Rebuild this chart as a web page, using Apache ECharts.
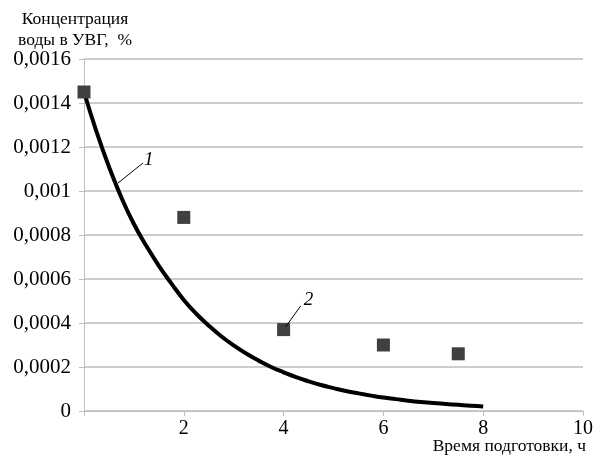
<!DOCTYPE html>
<html><head><meta charset="utf-8">
<script src="https://cdn.jsdelivr.net/npm/echarts@6/dist/echarts.min.js"></script>
<style>html,body{margin:0;padding:0;background:#fff}#c{width:596px;height:458px}</style>
</head><body><div id="c"></div>
<script>
// Curve 1
const curveT = [0, 0.25, 0.5, 0.75, 1, 1.25, 1.5, 1.75, 2, 2.25, 2.5, 2.75, 3, 3.25, 3.5, 3.75, 4, 4.25, 4.5, 4.75, 5, 5.25, 5.5, 5.75, 6, 6.25, 6.5, 6.75, 7, 7.25, 7.5, 7.75, 8];
const curveV = [0.00145, 0.00127, 0.00111, 0.00097, 0.00085, 0.00075, 0.00066, 0.00058, 0.000505, 0.000442, 0.000388, 0.00034, 0.000298, 0.000261, 0.000229, 0.0002, 0.000176, 0.000154, 0.000135, 0.000118, 0.000104, 0.000091, 0.00008, 0.00007, 0.000061, 0.000054, 0.000047, 0.000041, 0.000036, 0.000032, 0.000028, 0.000024, 0.000021];
// Points 2
const pointT = [0, 2, 4, 6, 7.5];
const pointV = [0.00145, 0.00088, 0.00037, 0.0003, 0.00026];
const yTickLabels = ['0', '0,0002', '0,0004', '0,0006', '0,0008', '0,001', '0,0012', '0,0014', '0,0016'];
const xTickLabels = ['', '2', '4', '6', '8', '10'];
const yTitle = 'Концентрация\nводы в УВГ,  %';
const xTitle = 'Время подготовки, ч';
// annotation leaders: [fromT, fromV, toT, toV, labelT, labelV, text]
const leader1 = [0.68, 0.001036, 1.18, 0.001127, 1.3, 0.00114, '1'];
const leader2 = [4.04, 0.000382, 4.34, 0.000477, 4.5, 0.000505, '2'];

const font = 'Liberation Serif';
const chart = echarts.init(document.getElementById('c'));
function leader(l) {
  return {
    type: 'line', data: [], silent: true,
    markLine: {
      symbol: ['none', 'none'], silent: true,
      lineStyle: { color: '#000', width: 1, type: 'solid' },
      label: { show: false },
      data: [[{ coord: [l[0], l[1]] }, { coord: [l[2], l[3]] }]]
    },
    markPoint: {
      symbol: 'circle', symbolSize: 1, itemStyle: { color: 'transparent' },
      label: { show: true, formatter: l[6], color: '#000', fontFamily: font, fontStyle: 'italic', fontSize: 19, position: 'inside' },
      data: [{ coord: [l[4], l[5]] }]
    }
  };
}
chart.setOption({
  animation: false,
  grid: { left: 84, right: 9, top: 59, bottom: 47 },
  graphic: [{
    type: 'text', x: 75, y: 9,
    style: { text: yTitle, font: '17.5px "Liberation Serif"', fill: '#000', align: 'center', textAlign: 'center', lineHeight: 21 }
  }],
  title: {
    text: xTitle, right: 5, top: 432,
    textStyle: { fontFamily: font, fontSize: 17.5, fontWeight: 'normal', color: '#000' }
  },
  xAxis: {
    type: 'value', min: 0, max: 10, interval: 2,
    axisLine: { lineStyle: { color: '#bfbfbf', width: 1 } },
    axisTick: { show: true, length: 5, lineStyle: { color: '#bfbfbf' } },
    splitLine: { show: false },
    axisLabel: {
      fontFamily: font, fontSize: 20, color: '#000', margin: 8,
      formatter: v => xTickLabels[Math.round(v / 2)]
    }
  },
  yAxis: {
    type: 'value', min: 0, max: 0.0016, interval: 0.0002,
    axisLine: { show: true, lineStyle: { color: '#bfbfbf', width: 1 } },
    axisTick: { show: true, length: 5, lineStyle: { color: '#bfbfbf' } },
    splitLine: { lineStyle: { color: '#bdbdbd', width: 1.5 } },
    axisLabel: {
      fontFamily: font, fontSize: 21, color: '#000', margin: 13,
      formatter: v => yTickLabels[Math.round(v / 0.0002)]
    }
  },
  series: [
    {
      type: 'line', smooth: true, symbol: 'none', z: 3,
      lineStyle: { color: '#000', width: 4 },
      data: curveT.map((t, i) => [t, curveV[i]])
    },
    {
      type: 'scatter', symbol: 'rect', symbolSize: 13, z: 4,
      itemStyle: { color: '#404040', opacity: 1 },
      data: pointT.map((t, i) => [t, pointV[i]])
    },
    leader(leader1),
    leader(leader2)
  ]
});
</script></body></html>
